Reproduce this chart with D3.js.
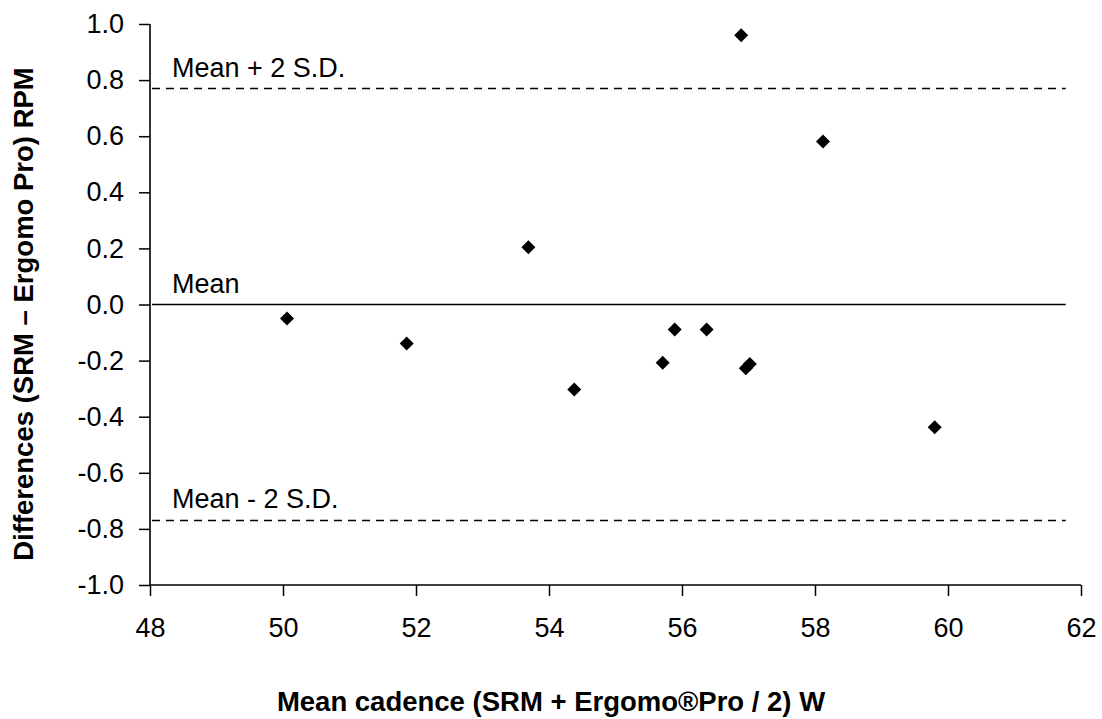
<!DOCTYPE html>
<html>
<head>
<meta charset="utf-8">
<script src="https://cdn.jsdelivr.net/npm/d3@7"></script>
<style>
  body { margin: 0; background: #fff; }
  svg { font-family: "Liberation Sans", Arial, sans-serif; }
</style>
</head>
<body>
<div id="chart"></div>
<script>
// mean cadence (x) and difference (y) for each rider
const meanCadence = [50.06, 51.86, 53.69, 54.38, 55.71, 55.89, 56.37, 56.89, 56.96, 57.02, 58.12, 59.80];
const differences = [-0.05, -0.139, 0.204, -0.303, -0.208, -0.089, -0.089, 0.960, -0.227, -0.212, 0.581, -0.438];

const xTicks = [48, 50, 52, 54, 56, 58, 60, 62];
const yTicks = [-1.0, -0.8, -0.6, -0.4, -0.2, 0.0, 0.2, 0.4, 0.6, 0.8, 1.0];

// bias line and limits of agreement
const refNames = ["Mean + 2 S.D.", "Mean", "Mean - 2 S.D."];
const refValues = [0.77, 0.0, -0.77];
const refDashed = [true, false, true];
const refSpan = [48, 61.77];

const width = 1102;
const height = 719;
const marginLeft = 150;
const marginRight = 21;
const marginTop = 24;
const marginBottom = 134;
const fontSize = 27;

const svg = d3.select("#chart")
    .append("svg")
    .attr("width", width)
    .attr("height", height)
    .attr("viewBox", [0, 0, width, height]);

const x = d3.scaleLinear([48, 62], [marginLeft, width - marginRight]);
const y = d3.scaleLinear([-1, 1], [height - marginBottom, marginTop]);

// x axis
svg.append("g")
    .attr("transform", `translate(0,${height - marginBottom})`)
    .call(d3.axisBottom(x).tickValues(xTicks).tickSize(11).tickPadding(22).tickFormat(d3.format("d")))
    .call(g => g.select(".domain").attr("stroke-width", 1.6).attr("d", `M${x(48)},0H${x(62)}`))
    .call(g => g.selectAll(".tick line").attr("stroke-width", 1.5))
    .call(g => g.selectAll(".tick text")
        .attr("font-size", fontSize)
        .attr("fill", "#000")
        .attr("font-family", "Liberation Sans, Arial, sans-serif"));

// y axis (plain hyphen for negatives, like the original)
svg.append("g")
    .attr("transform", `translate(${marginLeft},0)`)
    .call(d3.axisLeft(y).tickValues(yTicks).tickSize(11).tickPadding(15).tickFormat(d => d.toFixed(1)))
    .call(g => g.select(".domain").attr("stroke-width", 1.6).attr("d", `M0,${y(1)}V${y(-1)}`))
    .call(g => g.selectAll(".tick line").attr("stroke-width", 1.5))
    .call(g => g.selectAll(".tick text")
        .attr("font-size", fontSize)
        .attr("fill", "#000")
        .attr("font-family", "Liberation Sans, Arial, sans-serif"));

// reference lines
refValues.forEach((v, i) => {
    svg.append("line")
        .attr("x1", x(refSpan[0]) + 2)
        .attr("x2", x(refSpan[1]))
        .attr("y1", y(v))
        .attr("y2", y(v))
        .attr("stroke", "#000")
        .attr("stroke-width", refDashed[i] ? 1.3 : 1.6)
        .attr("stroke-dasharray", refDashed[i] ? "8,6" : null);

    svg.append("text")
        .attr("x", x(refSpan[0]) + 22)
        .attr("y", y(v) - 12)
        .attr("font-size", fontSize)
        .attr("fill", "#000")
        .text(refNames[i]);
});

// points
const diamond = d3.symbol(d3.symbolSquare, 98);
svg.append("g")
    .selectAll("path")
    .data(meanCadence)
    .join("path")
    .attr("d", diamond)
    .attr("transform", (d, i) => `translate(${x(d)},${y(differences[i])}) rotate(45)`)
    .attr("fill", "#000");

// axis titles
svg.append("text")
    .attr("x", width / 2)
    .attr("y", 711)
    .attr("text-anchor", "middle")
    .attr("font-size", fontSize + 0.5)
    .attr("font-weight", "bold")
    .text("Mean cadence (SRM + Ergomo\u00AEPro / 2) W");

svg.append("text")
    .attr("transform", `translate(33,314) rotate(-90)`)
    .attr("text-anchor", "middle")
    .attr("font-size", fontSize + 0.5)
    .attr("font-weight", "bold")
    .text("Differences (SRM \u2013 Ergomo Pro) RPM");
</script>
</body>
</html>
